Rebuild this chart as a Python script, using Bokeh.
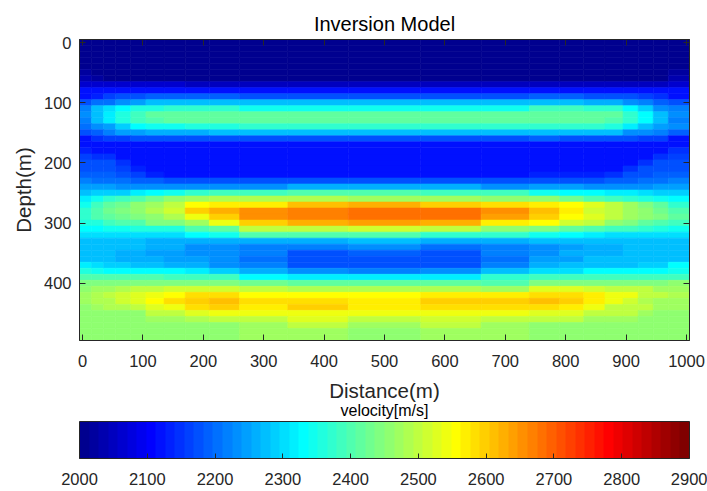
from bokeh.plotting import figure
from bokeh.models import (Range1d, LinearAxis, FixedTicker, ColorBar,
                          LinearColorMapper, ColumnDataSource, Title)
from bokeh.embed import file_html
from bokeh.resources import INLINE

# ---------------- data ----------------
depth_rows = [0, 10, 20, 30, 40, 50, 60, 70, 80, 90,
              100, 110, 120, 130, 140, 150, 160, 170, 180, 190,
              200, 210, 220, 230, 240, 250, 260, 270, 280, 290,
              300, 310, 320, 330, 340, 350, 360, 370, 380, 390,
              400, 410, 420, 430, 440, 450, 460, 470, 480, 490]

# column boundaries (m) of the velocity table below
x_edges = [-5, 15, 35, 55, 80, 105, 135, 170, 210, 260, 340, 440,
           560, 660, 740, 790, 830, 865, 895, 920, 945, 970, 1005]

# velocity (m/s), one row per depth, one value per column
velocity = [
    [2000, 2000, 2000, 2000, 2000, 2000, 2000, 2000, 2000, 2000, 2000, 2000, 2000, 2000, 2000, 2000, 2000, 2000, 2000, 2000, 2000, 2000],
    [2000, 2000, 2000, 2000, 2000, 2000, 2000, 2000, 2000, 2000, 2000, 2000, 2000, 2000, 2000, 2000, 2000, 2000, 2000, 2000, 2000, 2000],
    [2000, 2000, 2000, 2000, 2000, 2000, 2000, 2000, 2000, 2000, 2000, 2000, 2000, 2000, 2000, 2000, 2000, 2000, 2000, 2000, 2000, 2000],
    [2000, 2000, 2000, 2000, 2000, 2000, 2000, 2000, 2000, 2000, 2000, 2000, 2000, 2000, 2000, 2000, 2000, 2000, 2000, 2000, 2000, 2000],
    [2000, 2000, 2000, 2000, 2000, 2000, 2000, 2000, 2000, 2000, 2000, 2000, 2000, 2000, 2000, 2000, 2000, 2000, 2000, 2000, 2000, 2000],
    [2015, 2005, 2000, 2000, 2000, 2000, 2000, 2000, 2000, 2000, 2000, 2000, 2000, 2000, 2000, 2000, 2000, 2000, 2000, 2005, 2010, 2020],
    [2030, 2015, 2010, 2010, 2000, 2000, 2005, 2010, 2010, 2010, 2010, 2010, 2010, 2010, 2010, 2010, 2010, 2005, 2000, 2000, 2010, 2030],
    [2058, 2058, 2058, 2058, 2058, 2058, 2058, 2045, 2045, 2045, 2045, 2045, 2045, 2045, 2055, 2045, 2045, 2045, 2045, 2045, 2045, 2065],
    [2115, 2115, 2115, 2120, 2120, 2122, 2122, 2125, 2125, 2125, 2125, 2125, 2125, 2125, 2125, 2125, 2125, 2122, 2120, 2120, 2118, 2115],
    [2118, 2130, 2160, 2175, 2180, 2185, 2190, 2190, 2185, 2180, 2180, 2180, 2180, 2180, 2190, 2190, 2180, 2180, 2175, 2158, 2146, 2118],
    [2180, 2203, 2210, 2225, 2248, 2270, 2270, 2281, 2281, 2275, 2270, 2270, 2270, 2272, 2281, 2281, 2259, 2259, 2236, 2214, 2195, 2170],
    [2215, 2270, 2300, 2337, 2355, 2365, 2370, 2370, 2370, 2345, 2340, 2340, 2340, 2345, 2383, 2380, 2371, 2371, 2330, 2290, 2236, 2214],
    [2225, 2275, 2315, 2360, 2390, 2410, 2414, 2416, 2418, 2418, 2418, 2418, 2418, 2418, 2420, 2414, 2414, 2410, 2371, 2337, 2275, 2225],
    [2220, 2270, 2310, 2355, 2385, 2405, 2412, 2416, 2418, 2418, 2418, 2418, 2418, 2418, 2418, 2414, 2412, 2405, 2371, 2330, 2270, 2220],
    [2203, 2230, 2250, 2290, 2335, 2345, 2350, 2355, 2360, 2375, 2375, 2375, 2375, 2375, 2371, 2371, 2371, 2365, 2310, 2270, 2248, 2225],
    [2170, 2191, 2215, 2240, 2250, 2259, 2259, 2262, 2275, 2281, 2281, 2270, 2281, 2281, 2270, 2270, 2270, 2270, 2236, 2236, 2214, 2191],
    [2125, 2150, 2158, 2162, 2169, 2169, 2169, 2172, 2180, 2180, 2180, 2180, 2180, 2180, 2191, 2180, 2180, 2180, 2180, 2165, 2158, 2120],
    [2125, 2120, 2120, 2120, 2120, 2120, 2120, 2120, 2120, 2120, 2120, 2120, 2120, 2120, 2120, 2120, 2120, 2120, 2120, 2120, 2120, 2125],
    [2140, 2120, 2120, 2120, 2120, 2120, 2120, 2120, 2120, 2120, 2120, 2120, 2120, 2120, 2120, 2120, 2120, 2120, 2120, 2120, 2125, 2146],
    [2165, 2146, 2146, 2125, 2120, 2120, 2120, 2120, 2120, 2120, 2120, 2120, 2120, 2120, 2120, 2120, 2120, 2120, 2120, 2120, 2146, 2158],
    [2169, 2169, 2169, 2146, 2125, 2120, 2120, 2120, 2120, 2120, 2120, 2120, 2120, 2120, 2120, 2120, 2120, 2120, 2120, 2146, 2169, 2169],
    [2180, 2180, 2180, 2158, 2135, 2120, 2120, 2120, 2120, 2120, 2120, 2120, 2120, 2120, 2120, 2120, 2120, 2120, 2146, 2169, 2180, 2180],
    [2191, 2191, 2188, 2180, 2158, 2140, 2120, 2120, 2120, 2120, 2120, 2120, 2120, 2120, 2130, 2130, 2135, 2150, 2180, 2180, 2185, 2191],
    [2214, 2205, 2203, 2203, 2191, 2191, 2180, 2180, 2180, 2172, 2175, 2180, 2169, 2180, 2180, 2180, 2180, 2191, 2191, 2203, 2203, 2214],
    [2248, 2248, 2248, 2225, 2225, 2225, 2225, 2236, 2236, 2236, 2259, 2259, 2259, 2236, 2248, 2248, 2236, 2236, 2236, 2236, 2240, 2248],
    [2281, 2290, 2293, 2293, 2310, 2330, 2340, 2371, 2383, 2383, 2394, 2394, 2385, 2390, 2350, 2337, 2337, 2320, 2315, 2300, 2293, 2285],
    [2320, 2350, 2370, 2383, 2405, 2428, 2450, 2473, 2490, 2484, 2484, 2473, 2473, 2461, 2450, 2430, 2405, 2390, 2375, 2360, 2350, 2330],
    [2350, 2383, 2410, 2430, 2450, 2470, 2495, 2560, 2574, 2574, 2608, 2619, 2596, 2585, 2574, 2560, 2529, 2495, 2470, 2440, 2410, 2370],
    [2370, 2405, 2425, 2440, 2460, 2480, 2520, 2600, 2630, 2650, 2664, 2686, 2675, 2653, 2608, 2575, 2520, 2495, 2470, 2450, 2430, 2405],
    [2371, 2400, 2416, 2435, 2440, 2461, 2484, 2540, 2600, 2650, 2664, 2686, 2686, 2641, 2600, 2562, 2530, 2495, 2470, 2455, 2440, 2410],
    [2360, 2365, 2390, 2394, 2400, 2439, 2445, 2473, 2540, 2596, 2630, 2641, 2630, 2574, 2550, 2520, 2495, 2460, 2440, 2420, 2400, 2390],
    [2337, 2337, 2340, 2345, 2360, 2360, 2365, 2394, 2420, 2495, 2495, 2518, 2506, 2461, 2440, 2420, 2400, 2390, 2380, 2370, 2360, 2350],
    [2304, 2304, 2304, 2304, 2304, 2304, 2304, 2337, 2340, 2394, 2394, 2405, 2371, 2371, 2340, 2330, 2315, 2304, 2304, 2304, 2304, 2304],
    [2281, 2281, 2281, 2281, 2270, 2262, 2259, 2259, 2259, 2255, 2259, 2270, 2259, 2259, 2270, 2270, 2270, 2281, 2281, 2281, 2281, 2281],
    [2281, 2281, 2281, 2281, 2270, 2259, 2259, 2236, 2236, 2214, 2214, 2225, 2203, 2215, 2236, 2245, 2259, 2262, 2281, 2281, 2281, 2281],
    [2281, 2281, 2270, 2259, 2259, 2250, 2248, 2230, 2225, 2214, 2180, 2191, 2180, 2214, 2236, 2259, 2259, 2262, 2281, 2281, 2281, 2281],
    [2281, 2281, 2281, 2262, 2259, 2255, 2248, 2248, 2225, 2203, 2180, 2180, 2180, 2203, 2248, 2248, 2270, 2270, 2270, 2281, 2281, 2281],
    [2315, 2300, 2293, 2293, 2280, 2270, 2262, 2259, 2236, 2214, 2180, 2180, 2180, 2214, 2259, 2270, 2270, 2270, 2275, 2293, 2293, 2326],
    [2360, 2345, 2337, 2337, 2337, 2337, 2330, 2315, 2293, 2259, 2225, 2214, 2225, 2270, 2304, 2304, 2337, 2337, 2337, 2337, 2337, 2345],
    [2394, 2394, 2394, 2394, 2394, 2394, 2383, 2383, 2383, 2330, 2315, 2315, 2315, 2371, 2390, 2390, 2390, 2390, 2390, 2390, 2390, 2390],
    [2439, 2439, 2439, 2439, 2439, 2439, 2439, 2439, 2439, 2428, 2416, 2416, 2416, 2405, 2439, 2439, 2439, 2439, 2439, 2439, 2439, 2450],
    [2450, 2470, 2473, 2485, 2495, 2500, 2518, 2518, 2518, 2495, 2484, 2484, 2484, 2473, 2529, 2529, 2520, 2506, 2506, 2500, 2473, 2473],
    [2465, 2490, 2495, 2510, 2525, 2540, 2562, 2585, 2585, 2562, 2562, 2555, 2574, 2574, 2585, 2580, 2574, 2540, 2540, 2495, 2495, 2480],
    [2465, 2484, 2490, 2510, 2530, 2562, 2590, 2600, 2608, 2585, 2585, 2574, 2596, 2596, 2608, 2600, 2574, 2540, 2518, 2480, 2473, 2473],
    [2461, 2465, 2484, 2484, 2506, 2529, 2535, 2585, 2596, 2574, 2596, 2574, 2590, 2585, 2585, 2574, 2540, 2506, 2506, 2500, 2473, 2473],
    [2450, 2450, 2455, 2461, 2461, 2495, 2495, 2529, 2540, 2540, 2540, 2540, 2545, 2540, 2529, 2529, 2495, 2495, 2495, 2465, 2461, 2461],
    [2450, 2450, 2450, 2450, 2450, 2473, 2473, 2480, 2495, 2506, 2529, 2506, 2518, 2506, 2495, 2495, 2473, 2473, 2465, 2461, 2455, 2450],
    [2450, 2450, 2450, 2450, 2450, 2450, 2461, 2461, 2461, 2473, 2495, 2473, 2495, 2473, 2461, 2461, 2461, 2461, 2461, 2461, 2461, 2455],
    [2455, 2455, 2455, 2455, 2455, 2455, 2455, 2455, 2455, 2473, 2473, 2461, 2473, 2473, 2461, 2461, 2461, 2461, 2461, 2461, 2461, 2461],
    [2455, 2455, 2455, 2455, 2455, 2455, 2455, 2455, 2455, 2473, 2473, 2461, 2473, 2473, 2461, 2461, 2461, 2461, 2461, 2461, 2461, 2461],
]

x_ticks = [0, 100, 200, 300, 400, 500, 600, 700, 800, 900, 1000]
depth_ticks = [0, 100, 200, 300, 400]
velocity_ticks = [2000, 2100, 2200, 2300, 2400, 2500, 2600, 2700, 2800, 2900]
v_low, v_high = 2000, 2900


# ---------------- MATLAB-style jet(64) colormap ----------------
def jet(m=64):
    n = -(-m // 4)
    u = [k / n for k in range(1, n + 1)] + [1.0] * (n - 1) + [k / n for k in range(n, 0, -1)]
    g0 = -(-n // 2) - (1 if m % 4 == 1 else 0)
    rgb = [[0.0, 0.0, 0.0] for _ in range(m)]
    for i, val in enumerate(u):
        gi = g0 + i + 1
        for idx, ch in ((gi + n, 0), (gi, 1), (gi - n, 2)):
            if 1 <= idx <= m:
                rgb[idx - 1][ch] = val
    return ["#%02x%02x%02x" % tuple(int(round(c * 255)) for c in col) for col in rgb]


palette = jet(64)
mapper = LinearColorMapper(palette=palette, low=v_low, high=v_high)

# ---------------- cells ----------------
half = (depth_rows[1] - depth_rows[0]) / 2
left, right, top, bottom, vel = [], [], [], [], []
for i, d in enumerate(depth_rows):
    for j in range(len(x_edges) - 1):
        left.append(x_edges[j])
        right.append(x_edges[j + 1])
        top.append(d - half)
        bottom.append(d + half)
        vel.append(velocity[i][j])
src = ColumnDataSource(dict(left=left, right=right, top=top, bottom=bottom, v=vel))

FONT = "Liberation Sans"
AX = "#262626"

p = figure(width=707, height=491, output_backend="svg", toolbar_location=None,
           x_range=Range1d(x_edges[0], x_edges[-1]),
           y_range=Range1d(depth_rows[-1] + half, depth_rows[0] - half),
           min_border_left=79, min_border_right=18, min_border_top=39,
           min_border_bottom=151, background_fill_color="white",
           border_fill_color="white")

p.quad(left="left", right="right", top="top", bottom="bottom", source=src,
       fill_color={"field": "v", "transform": mapper},
       line_color={"field": "v", "transform": mapper}, line_width=0.6)

p.grid.visible = False
p.outline_line_color = AX
p.outline_line_width = 1

p.title.text = "Inversion Model"
p.title.align = "center"
p.title.text_font = FONT
p.title.text_font_size = "20px"
p.title.text_font_style = "normal"
p.title.text_color = "black"
p.title.standoff = 10


def style_axis(ax, ticks, show_labels=True):
    ax.ticker = FixedTicker(ticks=ticks)
    ax.major_tick_in = 6
    ax.major_tick_out = 0
    ax.minor_tick_line_color = None
    ax.axis_line_color = AX
    ax.major_tick_line_color = AX
    ax.major_label_text_font = FONT
    ax.axis_label_text_font = FONT
    ax.axis_label_text_color = AX
    ax.axis_label_text_font_style = "normal"
    if show_labels:
        ax.major_label_text_color = AX
        ax.major_label_text_font_size = "16.5px"
        ax.axis_label_text_font_size = "20.5px"
    else:
        ax.major_label_text_color = None
        ax.major_label_standoff = 0


xa = p.xaxis[0]
style_axis(xa, x_ticks)
xa.axis_label = "Distance(m)"
xa.major_label_standoff = 14
xa.axis_label_standoff = 9

ya = p.yaxis[0]
style_axis(ya, depth_ticks)
ya.axis_label = "Depth(m)"
ya.major_label_standoff = 8
ya.axis_label_standoff = 6

top_ax = LinearAxis()
style_axis(top_ax, x_ticks, show_labels=False)
p.add_layout(top_ax, "above")
right_ax = LinearAxis()
style_axis(right_ax, depth_ticks, show_labels=False)
p.add_layout(right_ax, "right")

# colour bar caption, centred under the axis label
cb_title = Title(text="velocity[m/s]", align="center", text_font=FONT,
                 text_font_size="16px", text_font_style="normal",
                 text_color="black", standoff=-10)
p.add_layout(cb_title, "below")

# blank spacer between the caption and the colour bar (white on white)
spacer = LinearAxis(ticker=FixedTicker(ticks=[x_ticks[0]]), axis_line_color=None,
                    major_tick_in=0, major_tick_out=8, major_tick_line_color="white",
                    minor_tick_in=0, minor_tick_out=0, minor_tick_line_color=None,
                    major_label_text_color=None, major_label_standoff=0)
p.add_layout(spacer, "below")

cbar = ColorBar(color_mapper=mapper, orientation="horizontal",
                width=610, height=37, padding=0, margin=0,
                ticker=FixedTicker(ticks=velocity_ticks),
                major_label_text_font=FONT, major_label_text_font_size="16.5px",
                major_label_text_color=AX, label_standoff=14,
                major_tick_in=5, major_tick_out=0, major_tick_line_color=AX,
                minor_tick_line_color=None,
                bar_line_color=AX, bar_line_width=1,
                background_fill_alpha=0, border_line_color=None)
p.add_layout(cbar, "below")

open("out.html", "w").write(file_html(p, INLINE))
